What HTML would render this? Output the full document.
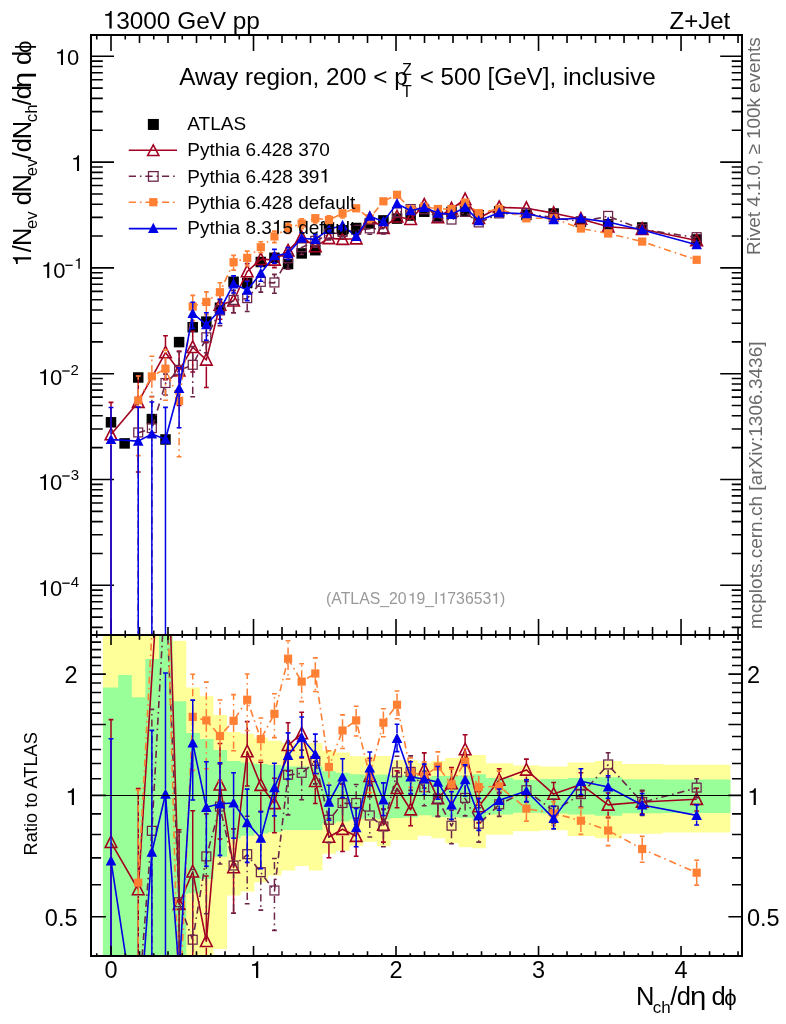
<!DOCTYPE html><html><head><meta charset="utf-8"><style>html,body{margin:0;padding:0;background:#fff;overflow:hidden}svg{display:block}text{font-family:"Liberation Sans",sans-serif}</style></head><body>
<svg style="will-change:transform" width="786" height="1024" viewBox="0 0 786 1024" font-family="Liberation Sans, sans-serif">
<rect width="786" height="1024" fill="#fff"/>
<path d="M96.75 35.00L96.75 39.50M96.75 635.00L96.75 630.50M111.00 35.00L111.00 51.00M111.00 635.00L111.00 619.00M125.25 35.00L125.25 39.50M125.25 635.00L125.25 630.50M139.50 35.00L139.50 43.00M139.50 635.00L139.50 627.00M153.75 35.00L153.75 39.50M153.75 635.00L153.75 630.50M168.00 35.00L168.00 43.00M168.00 635.00L168.00 627.00M182.25 35.00L182.25 39.50M182.25 635.00L182.25 630.50M196.51 35.00L196.51 43.00M196.51 635.00L196.51 627.00M210.76 35.00L210.76 39.50M210.76 635.00L210.76 630.50M225.01 35.00L225.01 43.00M225.01 635.00L225.01 627.00M239.26 35.00L239.26 39.50M239.26 635.00L239.26 630.50M253.51 35.00L253.51 51.00M253.51 635.00L253.51 619.00M267.76 35.00L267.76 39.50M267.76 635.00L267.76 630.50M282.01 35.00L282.01 43.00M282.01 635.00L282.01 627.00M296.26 35.00L296.26 39.50M296.26 635.00L296.26 630.50M310.51 35.00L310.51 43.00M310.51 635.00L310.51 627.00M324.76 35.00L324.76 39.50M324.76 635.00L324.76 630.50M339.02 35.00L339.02 43.00M339.02 635.00L339.02 627.00M353.27 35.00L353.27 39.50M353.27 635.00L353.27 630.50M367.52 35.00L367.52 43.00M367.52 635.00L367.52 627.00M381.77 35.00L381.77 39.50M381.77 635.00L381.77 630.50M396.02 35.00L396.02 51.00M396.02 635.00L396.02 619.00M410.27 35.00L410.27 39.50M410.27 635.00L410.27 630.50M424.52 35.00L424.52 43.00M424.52 635.00L424.52 627.00M438.77 35.00L438.77 39.50M438.77 635.00L438.77 630.50M453.02 35.00L453.02 43.00M453.02 635.00L453.02 627.00M467.27 35.00L467.27 39.50M467.27 635.00L467.27 630.50M481.53 35.00L481.53 43.00M481.53 635.00L481.53 627.00M495.78 35.00L495.78 39.50M495.78 635.00L495.78 630.50M510.03 35.00L510.03 43.00M510.03 635.00L510.03 627.00M524.28 35.00L524.28 39.50M524.28 635.00L524.28 630.50M538.53 35.00L538.53 51.00M538.53 635.00L538.53 619.00M552.78 35.00L552.78 39.50M552.78 635.00L552.78 630.50M567.03 35.00L567.03 43.00M567.03 635.00L567.03 627.00M581.28 35.00L581.28 39.50M581.28 635.00L581.28 630.50M595.53 35.00L595.53 43.00M595.53 635.00L595.53 627.00M609.78 35.00L609.78 39.50M609.78 635.00L609.78 630.50M624.04 35.00L624.04 43.00M624.04 635.00L624.04 627.00M638.29 35.00L638.29 39.50M638.29 635.00L638.29 630.50M652.54 35.00L652.54 43.00M652.54 635.00L652.54 627.00M666.79 35.00L666.79 39.50M666.79 635.00L666.79 630.50M681.04 35.00L681.04 51.00M681.04 635.00L681.04 619.00M695.29 35.00L695.29 39.50M695.29 635.00L695.29 630.50M709.54 35.00L709.54 43.00M709.54 635.00L709.54 627.00M723.79 35.00L723.79 39.50M723.79 635.00L723.79 630.50M738.04 35.00L738.04 43.00M738.04 635.00L738.04 627.00M91.00 627.40L102.80 627.40M742.00 627.40L731.70 627.40M91.00 617.15L102.80 617.15M742.00 617.15L731.70 617.15M91.00 608.77L102.80 608.77M742.00 608.77L731.70 608.77M91.00 601.69L102.80 601.69M742.00 601.69L731.70 601.69M91.00 595.55L102.80 595.55M742.00 595.55L731.70 595.55M91.00 590.14L102.80 590.14M742.00 590.14L731.70 590.14M91.00 585.30L114.00 585.30M742.00 585.30L720.20 585.30M91.00 553.45L102.80 553.45M742.00 553.45L731.70 553.45M91.00 534.82L102.80 534.82M742.00 534.82L731.70 534.82M91.00 521.60L102.80 521.60M742.00 521.60L731.70 521.60M91.00 511.35L102.80 511.35M742.00 511.35L731.70 511.35M91.00 502.97L102.80 502.97M742.00 502.97L731.70 502.97M91.00 495.89L102.80 495.89M742.00 495.89L731.70 495.89M91.00 489.75L102.80 489.75M742.00 489.75L731.70 489.75M91.00 484.34L102.80 484.34M742.00 484.34L731.70 484.34M91.00 479.50L114.00 479.50M742.00 479.50L720.20 479.50M91.00 447.65L102.80 447.65M742.00 447.65L731.70 447.65M91.00 429.02L102.80 429.02M742.00 429.02L731.70 429.02M91.00 415.80L102.80 415.80M742.00 415.80L731.70 415.80M91.00 405.55L102.80 405.55M742.00 405.55L731.70 405.55M91.00 397.17L102.80 397.17M742.00 397.17L731.70 397.17M91.00 390.09L102.80 390.09M742.00 390.09L731.70 390.09M91.00 383.95L102.80 383.95M742.00 383.95L731.70 383.95M91.00 378.54L102.80 378.54M742.00 378.54L731.70 378.54M91.00 373.70L114.00 373.70M742.00 373.70L720.20 373.70M91.00 341.85L102.80 341.85M742.00 341.85L731.70 341.85M91.00 323.22L102.80 323.22M742.00 323.22L731.70 323.22M91.00 310.00L102.80 310.00M742.00 310.00L731.70 310.00M91.00 299.75L102.80 299.75M742.00 299.75L731.70 299.75M91.00 291.37L102.80 291.37M742.00 291.37L731.70 291.37M91.00 284.29L102.80 284.29M742.00 284.29L731.70 284.29M91.00 278.15L102.80 278.15M742.00 278.15L731.70 278.15M91.00 272.74L102.80 272.74M742.00 272.74L731.70 272.74M91.00 267.90L114.00 267.90M742.00 267.90L720.20 267.90M91.00 236.05L102.80 236.05M742.00 236.05L731.70 236.05M91.00 217.42L102.80 217.42M742.00 217.42L731.70 217.42M91.00 204.20L102.80 204.20M742.00 204.20L731.70 204.20M91.00 193.95L102.80 193.95M742.00 193.95L731.70 193.95M91.00 185.57L102.80 185.57M742.00 185.57L731.70 185.57M91.00 178.49L102.80 178.49M742.00 178.49L731.70 178.49M91.00 172.35L102.80 172.35M742.00 172.35L731.70 172.35M91.00 166.94L102.80 166.94M742.00 166.94L731.70 166.94M91.00 162.10L114.00 162.10M742.00 162.10L720.20 162.10M91.00 130.25L102.80 130.25M742.00 130.25L731.70 130.25M91.00 111.62L102.80 111.62M742.00 111.62L731.70 111.62M91.00 98.40L102.80 98.40M742.00 98.40L731.70 98.40M91.00 88.15L102.80 88.15M742.00 88.15L731.70 88.15M91.00 79.77L102.80 79.77M742.00 79.77L731.70 79.77M91.00 72.69L102.80 72.69M742.00 72.69L731.70 72.69M91.00 66.55L102.80 66.55M742.00 66.55L731.70 66.55M91.00 61.14L102.80 61.14M742.00 61.14L731.70 61.14M91.00 56.30L114.00 56.30M742.00 56.30L720.20 56.30" stroke="#000" stroke-width="1.6" fill="none"/>
<defs><clipPath id="ct"><rect x="91" y="35" width="651" height="600"/></clipPath><clipPath id="cr"><rect x="91" y="635" width="651" height="320.8"/></clipPath></defs>
<g clip-path="url(#cr)">
<path d="M102.90 635.00H118.16V956.00H102.90ZM118.16 635.00H131.78V956.00H118.16ZM131.78 635.00H145.40V956.00H131.78ZM145.40 635.00H159.02V956.00H145.40ZM159.02 635.00H172.64V956.00H159.02ZM172.64 640.70H186.26V956.00H172.64ZM186.26 687.60H199.88V956.00H186.26ZM199.88 696.20H213.50V956.00H199.88ZM213.50 714.90H227.12V948.90H213.50ZM227.12 732.10H240.74V895.55H227.12ZM240.74 733.70H254.36V891.54H240.74ZM254.36 737.60H267.98V882.29H254.36ZM267.98 740.70H281.60V875.40H267.98ZM281.60 743.00H295.22V870.54H281.60ZM295.22 743.00H308.84V866.10H295.22ZM308.84 743.00H322.46V870.54H308.84ZM322.46 750.80H336.08V853.80H322.46ZM336.08 752.40H349.70V850.70H336.08ZM349.70 756.30H363.32V845.83H349.70ZM363.32 756.30H376.94V841.70H363.32ZM376.94 756.10H390.56V846.16H376.94ZM390.56 759.90H404.18V839.98H390.56ZM404.18 759.90H417.80V839.98H404.18ZM417.80 762.70H431.42V835.65H417.80ZM431.42 761.00H445.04V838.26H431.42ZM445.04 757.90H458.66V843.19H445.04ZM458.66 755.50H472.28V847.17H458.66ZM472.28 754.90H485.90V848.19H472.28ZM485.90 763.30H513.14V834.74H485.90ZM513.14 765.60H540.38V831.34H513.14ZM540.38 766.40H567.62V830.18H540.38ZM567.62 762.50H594.86V835.95H567.62ZM594.86 761.00H622.10V838.26H594.86ZM622.10 763.90H662.96V833.84H622.10ZM662.96 764.80H730.40V832.51H662.96Z" fill="#ffff99"/>
<path d="M102.90 687.50H118.16V956.00H102.90ZM118.16 675.10H131.78V956.00H118.16ZM131.78 697.30H145.40V956.00H131.78ZM145.40 659.10H159.02V956.00H145.40ZM159.02 635.00H172.64V956.00H159.02ZM172.64 701.30H186.26V956.00H172.64ZM186.26 732.90H199.88V893.53H186.26ZM199.88 739.10H213.50V878.91H199.88ZM213.50 750.10H227.12V856.68H213.50ZM227.12 761.00H240.74V838.26H227.12ZM240.74 762.60H254.36V835.80H240.74ZM254.36 764.10H267.98V833.54H254.36ZM267.98 764.90H281.60V832.36H267.98ZM281.60 766.60H295.22V829.89H281.60ZM295.22 766.60H308.84V829.89H295.22ZM308.84 766.60H322.46V829.89H308.84ZM322.46 771.20H336.08V823.49H322.46ZM336.08 772.70H349.70V821.49H336.08ZM349.70 774.30H363.32V819.40H349.70ZM363.32 775.10H376.94V818.37H363.32ZM376.94 774.50H390.56V819.14H376.94ZM390.56 775.30H404.18V818.11H390.56ZM404.18 775.80H417.80V817.48H404.18ZM417.80 777.60H431.42V815.22H417.80ZM431.42 776.10H445.04V817.10H431.42ZM445.04 776.00H458.66V817.22H445.04ZM458.66 775.50H472.28V817.86H458.66ZM472.28 774.20H485.90V819.53H472.28ZM485.90 778.10H513.14V814.60H485.90ZM513.14 779.70H540.38V812.65H513.14ZM540.38 778.90H567.62V813.62H540.38ZM567.62 778.10H594.86V814.60H567.62ZM594.86 777.25H622.10V815.65H594.86ZM622.10 779.20H662.96V813.25H622.10ZM662.96 779.50H730.40V812.89H662.96Z" fill="#99ff99"/>
<path d="M111.00 842.30L138.24 889.50L165.48 464.39L179.10 904.20L192.72 871.80L206.34 941.30L219.96 784.80L233.58 867.50L247.20 751.60L260.82 785.20L274.44 803.40L288.06 745.30L301.68 733.60L315.30 781.30L328.92 837.00L342.54 829.20L356.16 836.20L369.78 776.30L383.40 825.00L397.02 788.30L410.64 809.70L424.26 769.60L437.88 798.60L451.50 783.50L465.12 749.60L478.74 806.60L499.17 780.10L526.41 769.90L553.65 794.10L580.89 784.40L608.13 804.90L642.18 802.00L696.66 799.20" fill="none" stroke="#a30021" stroke-width="1.6" stroke-linejoin="round"/>
<path d="M111.00 835.80V719.60M111.00 848.80V1006.00M138.24 883.00V788.50M138.24 896.00V1155.16M179.10 897.70V829.70M179.10 910.70V1036.57M192.72 865.30V810.80M192.72 878.30V966.23M206.34 934.80V876.00M206.34 947.80V1046.64M219.96 778.30V743.50M219.96 791.30V838.96M233.58 861.00V828.80M233.58 874.00V913.20M247.20 745.10V721.60M247.20 758.10V786.00M260.82 778.70V762.27M260.82 791.70V811.60M274.44 796.90V778.31M274.44 809.90V832.70M288.06 738.80V722.70M288.06 751.80V771.26M301.68 727.10V712.25M301.68 740.10V757.92M315.30 774.80V761.60M315.30 787.80V803.50M328.92 830.50V818.49M328.92 843.50V857.70M342.54 822.70V784.30M342.54 835.70V851.50M356.16 829.70V818.25M356.16 842.70V856.20M369.78 769.80V758.35M369.78 782.80V796.30M383.40 818.50V809.42M383.40 831.50V842.10M397.02 781.80V770.84M397.02 794.80V807.70M410.64 803.20V795.04M410.64 816.20V825.70M424.26 763.10V752.90M424.26 776.10V788.06M437.88 792.10V782.53M437.88 805.10V816.30M451.50 777.00V767.43M451.50 790.00V801.20M465.12 743.10V734.75M465.12 756.10V765.83M478.74 800.10V791.75M478.74 813.10V822.83M499.17 773.60V768.75M499.17 786.60V792.24M526.41 763.40V759.10M526.41 776.40V781.41M553.65 787.60V782.50M553.65 800.60V806.52M580.89 777.90V772.80M580.89 790.90V796.82M608.13 798.40V792.97M608.13 811.40V817.70M642.18 795.50V791.00M642.18 808.50V813.74M696.66 792.70V788.20M696.66 805.70V810.94" fill="none" stroke="#a30021" stroke-width="1.5"/>
<path d="M108.60 719.60H113.40M108.60 1006.00H113.40M135.84 788.50H140.64M135.84 1155.16H140.64M176.70 829.70H181.50M176.70 1036.57H181.50M190.32 810.80H195.12M190.32 966.23H195.12M203.94 876.00H208.74M203.94 1046.64H208.74M217.56 743.50H222.36M217.56 838.96H222.36M231.18 828.80H235.98M231.18 913.20H235.98M244.80 721.60H249.60M244.80 786.00H249.60M258.42 762.27H263.22M258.42 811.60H263.22M272.04 778.31H276.84M272.04 832.70H276.84M285.66 722.70H290.46M285.66 771.26H290.46M299.28 712.25H304.08M299.28 757.92H304.08M312.90 761.60H317.70M312.90 803.50H317.70M326.52 818.49H331.32M326.52 857.70H331.32M340.14 784.30H344.94M340.14 851.50H344.94M353.76 818.25H358.56M353.76 856.20H358.56M367.38 758.35H372.18M367.38 796.30H372.18M381.00 809.42H385.80M381.00 842.10H385.80M394.62 770.84H399.42M394.62 807.70H399.42M408.24 795.04H413.04M408.24 825.70H413.04M421.86 752.90H426.66M421.86 788.06H426.66M435.48 782.53H440.28M435.48 816.30H440.28M449.10 767.43H453.90M449.10 801.20H453.90M462.72 734.75H467.52M462.72 765.83H467.52M476.34 791.75H481.14M476.34 822.83H481.14M496.77 768.75H501.57M496.77 792.24H501.57M524.01 759.10H528.81M524.01 781.41H528.81M551.25 782.50H556.05M551.25 806.52H556.05M578.49 772.80H583.29M578.49 796.82H583.29M605.73 792.97H610.53M605.73 817.70H610.53M639.78 791.00H644.58M639.78 813.74H644.58M694.26 788.20H699.06M694.26 810.94H699.06" fill="none" stroke="#a30021" stroke-width="1.6"/>
<path d="M111.00 835.90L116.80 847.50H105.20Z" fill="none" stroke="#a30021" stroke-width="1.6" stroke-linejoin="miter"/>
<path d="M138.24 883.10L144.04 894.70H132.44Z" fill="none" stroke="#a30021" stroke-width="1.6" stroke-linejoin="miter"/>
<path d="M179.10 897.80L184.90 909.40H173.30Z" fill="none" stroke="#a30021" stroke-width="1.6" stroke-linejoin="miter"/>
<path d="M192.72 865.40L198.52 877.00H186.92Z" fill="none" stroke="#a30021" stroke-width="1.6" stroke-linejoin="miter"/>
<path d="M206.34 934.90L212.14 946.50H200.54Z" fill="none" stroke="#a30021" stroke-width="1.6" stroke-linejoin="miter"/>
<path d="M219.96 778.40L225.76 790.00H214.16Z" fill="none" stroke="#a30021" stroke-width="1.6" stroke-linejoin="miter"/>
<path d="M233.58 861.10L239.38 872.70H227.78Z" fill="none" stroke="#a30021" stroke-width="1.6" stroke-linejoin="miter"/>
<path d="M247.20 745.20L253.00 756.80H241.40Z" fill="none" stroke="#a30021" stroke-width="1.6" stroke-linejoin="miter"/>
<path d="M260.82 778.80L266.62 790.40H255.02Z" fill="none" stroke="#a30021" stroke-width="1.6" stroke-linejoin="miter"/>
<path d="M274.44 797.00L280.24 808.60H268.64Z" fill="none" stroke="#a30021" stroke-width="1.6" stroke-linejoin="miter"/>
<path d="M288.06 738.90L293.86 750.50H282.26Z" fill="none" stroke="#a30021" stroke-width="1.6" stroke-linejoin="miter"/>
<path d="M301.68 727.20L307.48 738.80H295.88Z" fill="none" stroke="#a30021" stroke-width="1.6" stroke-linejoin="miter"/>
<path d="M315.30 774.90L321.10 786.50H309.50Z" fill="none" stroke="#a30021" stroke-width="1.6" stroke-linejoin="miter"/>
<path d="M328.92 830.60L334.72 842.20H323.12Z" fill="none" stroke="#a30021" stroke-width="1.6" stroke-linejoin="miter"/>
<path d="M342.54 822.80L348.34 834.40H336.74Z" fill="none" stroke="#a30021" stroke-width="1.6" stroke-linejoin="miter"/>
<path d="M356.16 829.80L361.96 841.40H350.36Z" fill="none" stroke="#a30021" stroke-width="1.6" stroke-linejoin="miter"/>
<path d="M369.78 769.90L375.58 781.50H363.98Z" fill="none" stroke="#a30021" stroke-width="1.6" stroke-linejoin="miter"/>
<path d="M383.40 818.60L389.20 830.20H377.60Z" fill="none" stroke="#a30021" stroke-width="1.6" stroke-linejoin="miter"/>
<path d="M397.02 781.90L402.82 793.50H391.22Z" fill="none" stroke="#a30021" stroke-width="1.6" stroke-linejoin="miter"/>
<path d="M410.64 803.30L416.44 814.90H404.84Z" fill="none" stroke="#a30021" stroke-width="1.6" stroke-linejoin="miter"/>
<path d="M424.26 763.20L430.06 774.80H418.46Z" fill="none" stroke="#a30021" stroke-width="1.6" stroke-linejoin="miter"/>
<path d="M437.88 792.20L443.68 803.80H432.08Z" fill="none" stroke="#a30021" stroke-width="1.6" stroke-linejoin="miter"/>
<path d="M451.50 777.10L457.30 788.70H445.70Z" fill="none" stroke="#a30021" stroke-width="1.6" stroke-linejoin="miter"/>
<path d="M465.12 743.20L470.92 754.80H459.32Z" fill="none" stroke="#a30021" stroke-width="1.6" stroke-linejoin="miter"/>
<path d="M478.74 800.20L484.54 811.80H472.94Z" fill="none" stroke="#a30021" stroke-width="1.6" stroke-linejoin="miter"/>
<path d="M499.17 773.70L504.97 785.30H493.37Z" fill="none" stroke="#a30021" stroke-width="1.6" stroke-linejoin="miter"/>
<path d="M526.41 763.50L532.21 775.10H520.61Z" fill="none" stroke="#a30021" stroke-width="1.6" stroke-linejoin="miter"/>
<path d="M553.65 787.70L559.45 799.30H547.85Z" fill="none" stroke="#a30021" stroke-width="1.6" stroke-linejoin="miter"/>
<path d="M580.89 778.00L586.69 789.60H575.09Z" fill="none" stroke="#a30021" stroke-width="1.6" stroke-linejoin="miter"/>
<path d="M608.13 798.50L613.93 810.10H602.33Z" fill="none" stroke="#a30021" stroke-width="1.6" stroke-linejoin="miter"/>
<path d="M642.18 795.60L647.98 807.20H636.38Z" fill="none" stroke="#a30021" stroke-width="1.6" stroke-linejoin="miter"/>
<path d="M696.66 792.80L702.46 804.40H690.86Z" fill="none" stroke="#a30021" stroke-width="1.6" stroke-linejoin="miter"/>
<path d="M138.24 1006.23L151.86 831.20L165.48 581.71L179.10 902.60L192.72 940.10L206.34 856.80L219.96 807.00L233.58 865.90L247.20 854.60L260.82 872.60L274.44 890.90L288.06 775.10L301.68 773.20L315.30 761.40L328.92 820.20L342.54 803.40L356.16 803.40L369.78 815.90L383.40 826.90L397.02 772.70L410.64 772.30L424.26 787.60L437.88 799.00L451.50 826.10L465.12 798.30L478.74 824.10L499.17 804.70L526.41 790.60L553.65 810.90L580.89 794.50L608.13 764.85L642.18 802.40L696.66 788.00" fill="none" stroke="#6b2448" stroke-width="1.6" stroke-dasharray="7.2 3.9 1.6 3.9" stroke-linejoin="round"/>
<path d="M151.86 826.20V709.40M151.86 836.20V1006.00M179.10 897.60V832.00M179.10 907.60V1022.83M192.72 935.10V869.50M192.72 945.10V1060.33M206.34 851.80V813.87M206.34 861.80V913.80M219.96 802.00V764.07M219.96 812.00V864.00M233.58 860.90V828.80M233.58 870.90V913.20M247.20 849.60V816.30M247.20 859.60V903.80M260.82 867.60V841.73M260.82 877.60V910.10M274.44 885.90V858.50M274.44 895.90V930.40M288.06 770.10V742.70M288.06 780.10V814.89M301.68 768.20V750.10M301.68 778.20V799.82M315.30 756.40V741.50M315.30 766.40V783.86M328.92 815.20V800.30M328.92 825.20V842.66M342.54 798.40V783.50M342.54 808.40V825.86M356.16 798.40V784.57M356.16 808.40V824.50M369.78 810.90V797.07M369.78 820.90V837.00M383.40 821.90V809.03M383.40 831.90V846.80M397.02 767.70V756.30M397.02 777.70V790.80M410.64 767.30V755.90M410.64 777.30V790.40M424.26 782.60V771.20M424.26 792.60V805.70M437.88 794.00V783.01M437.88 804.00V816.60M451.50 821.10V810.11M451.50 831.10V843.70M465.12 793.30V782.31M465.12 803.30V815.90M478.74 819.10V807.78M478.74 829.10V842.10M499.17 799.70V793.73M499.17 809.70V816.40M526.41 785.60V779.63M526.41 795.60V802.30M553.65 805.90V799.23M553.65 815.90V823.40M580.89 789.50V782.83M580.89 799.50V807.00M608.13 759.85V752.80M608.13 769.85V777.25M642.18 797.40V790.35M642.18 807.40V815.34M696.66 783.00V778.80M696.66 793.00V797.71" fill="none" stroke="#6b2448" stroke-width="1.5" stroke-dasharray="7.2 3.9 1.6 3.9"/>
<path d="M149.46 709.40H154.26M149.46 1006.00H154.26M176.70 832.00H181.50M176.70 1022.83H181.50M190.32 869.50H195.12M190.32 1060.33H195.12M203.94 813.87H208.74M203.94 913.80H208.74M217.56 764.07H222.36M217.56 864.00H222.36M231.18 828.80H235.98M231.18 913.20H235.98M244.80 816.30H249.60M244.80 903.80H249.60M258.42 841.73H263.22M258.42 910.10H263.22M272.04 858.50H276.84M272.04 930.40H276.84M285.66 742.70H290.46M285.66 814.89H290.46M299.28 750.10H304.08M299.28 799.82H304.08M312.90 741.50H317.70M312.90 783.86H317.70M326.52 800.30H331.32M326.52 842.66H331.32M340.14 783.50H344.94M340.14 825.86H344.94M353.76 784.57H358.56M353.76 824.50H358.56M367.38 797.07H372.18M367.38 837.00H372.18M381.00 809.03H385.80M381.00 846.80H385.80M394.62 756.30H399.42M394.62 790.80H399.42M408.24 755.90H413.04M408.24 790.40H413.04M421.86 771.20H426.66M421.86 805.70H426.66M435.48 783.01H440.28M435.48 816.60H440.28M449.10 810.11H453.90M449.10 843.70H453.90M462.72 782.31H467.52M462.72 815.90H467.52M476.34 807.78H481.14M476.34 842.10H481.14M496.77 793.73H501.57M496.77 816.40H501.57M524.01 779.63H528.81M524.01 802.30H528.81M551.25 799.23H556.05M551.25 823.40H556.05M578.49 782.83H583.29M578.49 807.00H583.29M605.73 752.80H610.53M605.73 777.25H610.53M639.78 790.35H644.58M639.78 815.34H644.58M694.26 778.80H699.06M694.26 797.71H699.06" fill="none" stroke="#6b2448" stroke-width="1.6"/>
<rect x="147.41" y="826.35" width="8.9" height="8.9" fill="none" stroke="#6b2448" stroke-width="1.25"/>
<rect x="174.65" y="897.75" width="8.9" height="8.9" fill="none" stroke="#6b2448" stroke-width="1.25"/>
<rect x="188.27" y="935.25" width="8.9" height="8.9" fill="none" stroke="#6b2448" stroke-width="1.25"/>
<rect x="201.89" y="851.95" width="8.9" height="8.9" fill="none" stroke="#6b2448" stroke-width="1.25"/>
<rect x="215.51" y="802.15" width="8.9" height="8.9" fill="none" stroke="#6b2448" stroke-width="1.25"/>
<rect x="229.13" y="861.05" width="8.9" height="8.9" fill="none" stroke="#6b2448" stroke-width="1.25"/>
<rect x="242.75" y="849.75" width="8.9" height="8.9" fill="none" stroke="#6b2448" stroke-width="1.25"/>
<rect x="256.37" y="867.75" width="8.9" height="8.9" fill="none" stroke="#6b2448" stroke-width="1.25"/>
<rect x="269.99" y="886.05" width="8.9" height="8.9" fill="none" stroke="#6b2448" stroke-width="1.25"/>
<rect x="283.61" y="770.25" width="8.9" height="8.9" fill="none" stroke="#6b2448" stroke-width="1.25"/>
<rect x="297.23" y="768.35" width="8.9" height="8.9" fill="none" stroke="#6b2448" stroke-width="1.25"/>
<rect x="310.85" y="756.55" width="8.9" height="8.9" fill="none" stroke="#6b2448" stroke-width="1.25"/>
<rect x="324.47" y="815.35" width="8.9" height="8.9" fill="none" stroke="#6b2448" stroke-width="1.25"/>
<rect x="338.09" y="798.55" width="8.9" height="8.9" fill="none" stroke="#6b2448" stroke-width="1.25"/>
<rect x="351.71" y="798.55" width="8.9" height="8.9" fill="none" stroke="#6b2448" stroke-width="1.25"/>
<rect x="365.33" y="811.05" width="8.9" height="8.9" fill="none" stroke="#6b2448" stroke-width="1.25"/>
<rect x="378.95" y="822.05" width="8.9" height="8.9" fill="none" stroke="#6b2448" stroke-width="1.25"/>
<rect x="392.57" y="767.85" width="8.9" height="8.9" fill="none" stroke="#6b2448" stroke-width="1.25"/>
<rect x="406.19" y="767.45" width="8.9" height="8.9" fill="none" stroke="#6b2448" stroke-width="1.25"/>
<rect x="419.81" y="782.75" width="8.9" height="8.9" fill="none" stroke="#6b2448" stroke-width="1.25"/>
<rect x="433.43" y="794.15" width="8.9" height="8.9" fill="none" stroke="#6b2448" stroke-width="1.25"/>
<rect x="447.05" y="821.25" width="8.9" height="8.9" fill="none" stroke="#6b2448" stroke-width="1.25"/>
<rect x="460.67" y="793.45" width="8.9" height="8.9" fill="none" stroke="#6b2448" stroke-width="1.25"/>
<rect x="474.29" y="819.25" width="8.9" height="8.9" fill="none" stroke="#6b2448" stroke-width="1.25"/>
<rect x="494.72" y="799.85" width="8.9" height="8.9" fill="none" stroke="#6b2448" stroke-width="1.25"/>
<rect x="521.96" y="785.75" width="8.9" height="8.9" fill="none" stroke="#6b2448" stroke-width="1.25"/>
<rect x="549.20" y="806.05" width="8.9" height="8.9" fill="none" stroke="#6b2448" stroke-width="1.25"/>
<rect x="576.44" y="789.65" width="8.9" height="8.9" fill="none" stroke="#6b2448" stroke-width="1.25"/>
<rect x="603.68" y="760.00" width="8.9" height="8.9" fill="none" stroke="#6b2448" stroke-width="1.25"/>
<rect x="637.73" y="797.55" width="8.9" height="8.9" fill="none" stroke="#6b2448" stroke-width="1.25"/>
<rect x="692.21" y="783.15" width="8.9" height="8.9" fill="none" stroke="#6b2448" stroke-width="1.25"/>
<path d="M138.24 882.70L151.86 632.75L165.48 525.72L179.10 1018.99L192.72 716.90L206.34 720.40L219.96 736.00L233.58 720.80L247.20 699.75L260.82 739.10L274.44 713.80L288.06 658.70L301.68 681.60L315.30 673.50L328.92 767.00L342.54 730.50L356.16 720.40L369.78 776.00L383.40 722.70L397.02 704.75L410.64 772.00L424.26 776.00L437.88 766.50L451.50 784.40L465.12 761.80L478.74 787.10L499.17 786.30L526.41 808.60L553.65 813.30L580.89 820.70L608.13 830.50L642.18 849.00L696.66 872.70" fill="none" stroke="#ff7f33" stroke-width="1.6" stroke-dasharray="7.2 3.9 1.6 3.9" stroke-linejoin="round"/>
<path d="M138.24 878.60V789.90M138.24 886.80V1093.02M192.72 712.80V674.30M192.72 721.00V770.40M206.34 716.30V682.10M206.34 724.50V768.80M219.96 731.90V700.00M219.96 740.10V781.37M233.58 716.70V694.60M233.58 724.90V750.80M247.20 695.65V674.00M247.20 703.85V730.50M260.82 735.00V718.00M260.82 743.20V760.20M274.44 709.70V693.80M274.44 717.90V737.60M288.06 654.60V640.70M288.06 662.80V679.00M301.68 677.50V663.80M301.68 685.70V701.60M315.30 669.40V657.90M315.30 677.60V691.50M328.92 762.90V750.80M328.92 771.10V785.20M342.54 726.40V714.90M342.54 734.60V748.50M356.16 716.30V706.30M356.16 724.50V736.00M369.78 771.90V760.67M369.78 780.10V792.80M383.40 718.60V708.70M383.40 726.80V736.80M397.02 700.65V691.00M397.02 708.85V718.80M410.64 767.90V757.90M410.64 776.10V787.34M424.26 771.90V761.90M424.26 780.10V791.34M437.88 762.40V751.90M437.88 770.60V782.43M451.50 780.30V769.10M451.50 788.50V801.17M465.12 757.70V748.50M465.12 765.90V776.19M478.74 783.00V771.90M478.74 791.20V803.75M499.17 782.20V771.10M499.17 790.40V802.95M526.41 804.50V796.93M526.41 812.70V821.10M553.65 809.20V801.63M553.65 817.40V825.80M580.89 816.60V807.99M580.89 824.80V834.40M608.13 826.40V816.60M608.13 834.60V845.60M642.18 844.90V836.40M642.18 853.10V862.20M696.66 868.60V860.30M696.66 876.80V885.10" fill="none" stroke="#ff7f33" stroke-width="1.5" stroke-dasharray="7.2 3.9 1.6 3.9"/>
<path d="M135.84 789.90H140.64M135.84 1093.02H140.64M190.32 674.30H195.12M190.32 770.40H195.12M203.94 682.10H208.74M203.94 768.80H208.74M217.56 700.00H222.36M217.56 781.37H222.36M231.18 694.60H235.98M231.18 750.80H235.98M244.80 674.00H249.60M244.80 730.50H249.60M258.42 718.00H263.22M258.42 760.20H263.22M272.04 693.80H276.84M272.04 737.60H276.84M285.66 640.70H290.46M285.66 679.00H290.46M299.28 663.80H304.08M299.28 701.60H304.08M312.90 657.90H317.70M312.90 691.50H317.70M326.52 750.80H331.32M326.52 785.20H331.32M340.14 714.90H344.94M340.14 748.50H344.94M353.76 706.30H358.56M353.76 736.00H358.56M367.38 760.67H372.18M367.38 792.80H372.18M381.00 708.70H385.80M381.00 736.80H385.80M394.62 691.00H399.42M394.62 718.80H399.42M408.24 757.90H413.04M408.24 787.34H413.04M421.86 761.90H426.66M421.86 791.34H426.66M435.48 751.90H440.28M435.48 782.43H440.28M449.10 769.10H453.90M449.10 801.17H453.90M462.72 748.50H467.52M462.72 776.19H467.52M476.34 771.90H481.14M476.34 803.75H481.14M496.77 771.10H501.57M496.77 802.95H501.57M524.01 796.93H528.81M524.01 821.10H528.81M551.25 801.63H556.05M551.25 825.80H556.05M578.49 807.99H583.29M578.49 834.40H583.29M605.73 816.60H610.53M605.73 845.60H610.53M639.78 836.40H644.58M639.78 862.20H644.58M694.26 860.30H699.06M694.26 885.10H699.06" fill="none" stroke="#ff7f33" stroke-width="1.6"/>
<rect x="134.14" y="878.60" width="8.2" height="8.2" fill="#ff7f33"/>
<rect x="188.62" y="712.80" width="8.2" height="8.2" fill="#ff7f33"/>
<rect x="202.24" y="716.30" width="8.2" height="8.2" fill="#ff7f33"/>
<rect x="215.86" y="731.90" width="8.2" height="8.2" fill="#ff7f33"/>
<rect x="229.48" y="716.70" width="8.2" height="8.2" fill="#ff7f33"/>
<rect x="243.10" y="695.65" width="8.2" height="8.2" fill="#ff7f33"/>
<rect x="256.72" y="735.00" width="8.2" height="8.2" fill="#ff7f33"/>
<rect x="270.34" y="709.70" width="8.2" height="8.2" fill="#ff7f33"/>
<rect x="283.96" y="654.60" width="8.2" height="8.2" fill="#ff7f33"/>
<rect x="297.58" y="677.50" width="8.2" height="8.2" fill="#ff7f33"/>
<rect x="311.20" y="669.40" width="8.2" height="8.2" fill="#ff7f33"/>
<rect x="324.82" y="762.90" width="8.2" height="8.2" fill="#ff7f33"/>
<rect x="338.44" y="726.40" width="8.2" height="8.2" fill="#ff7f33"/>
<rect x="352.06" y="716.30" width="8.2" height="8.2" fill="#ff7f33"/>
<rect x="365.68" y="771.90" width="8.2" height="8.2" fill="#ff7f33"/>
<rect x="379.30" y="718.60" width="8.2" height="8.2" fill="#ff7f33"/>
<rect x="392.92" y="700.65" width="8.2" height="8.2" fill="#ff7f33"/>
<rect x="406.54" y="767.90" width="8.2" height="8.2" fill="#ff7f33"/>
<rect x="420.16" y="771.90" width="8.2" height="8.2" fill="#ff7f33"/>
<rect x="433.78" y="762.40" width="8.2" height="8.2" fill="#ff7f33"/>
<rect x="447.40" y="780.30" width="8.2" height="8.2" fill="#ff7f33"/>
<rect x="461.02" y="757.70" width="8.2" height="8.2" fill="#ff7f33"/>
<rect x="474.64" y="783.00" width="8.2" height="8.2" fill="#ff7f33"/>
<rect x="495.07" y="782.20" width="8.2" height="8.2" fill="#ff7f33"/>
<rect x="522.31" y="804.50" width="8.2" height="8.2" fill="#ff7f33"/>
<rect x="549.55" y="809.20" width="8.2" height="8.2" fill="#ff7f33"/>
<rect x="576.79" y="816.60" width="8.2" height="8.2" fill="#ff7f33"/>
<rect x="604.03" y="826.40" width="8.2" height="8.2" fill="#ff7f33"/>
<rect x="638.08" y="844.90" width="8.2" height="8.2" fill="#ff7f33"/>
<rect x="692.56" y="868.60" width="8.2" height="8.2" fill="#ff7f33"/>
<path d="M111.00 860.90L138.24 1037.66L151.86 852.20L165.48 794.20L179.10 972.14L192.72 743.00L206.34 807.30L219.96 803.80L233.58 803.00L247.20 822.60L260.82 838.20L274.44 787.60L288.06 755.50L301.68 737.60L315.30 754.30L328.92 802.20L342.54 777.00L356.16 827.60L369.78 768.00L383.40 799.90L397.02 738.30L410.64 777.00L424.26 779.00L437.88 782.10L451.50 805.00L465.12 779.75L478.74 815.90L499.17 800.30L526.41 791.00L553.65 818.40L580.89 781.30L608.13 787.00L642.18 805.00L696.66 815.40" fill="none" stroke="#0000e6" stroke-width="1.6" stroke-linejoin="round"/>
<path d="M111.00 855.70V738.80M111.00 866.10V1006.00M151.86 847.00V730.40M151.86 857.40V1006.00M165.48 789.00V673.00M165.48 799.40V1006.00M192.72 737.80V700.10M192.72 748.20V799.95M206.34 802.10V761.80M206.34 812.50V866.30M219.96 798.60V762.90M219.96 809.00V855.40M233.58 797.80V772.70M233.58 808.20V838.20M247.20 817.40V789.10M247.20 827.80V862.40M260.82 833.00V811.60M260.82 843.40V868.70M274.44 782.40V763.30M274.44 792.80V815.83M288.06 750.30V732.90M288.06 760.70V779.00M301.68 732.40V717.00M301.68 742.80V757.10M315.30 749.10V734.10M315.30 759.50V773.50M328.92 797.00V785.20M328.92 807.40V820.20M342.54 771.80V758.70M342.54 782.20V797.44M356.16 822.40V808.50M356.16 832.80V846.80M369.78 762.80V752.00M369.78 773.20V785.61M383.40 794.70V782.90M383.40 805.10V815.50M397.02 733.10V724.30M397.02 743.50V751.60M410.64 771.80V761.80M410.64 782.20V793.65M424.26 773.80V764.10M424.26 784.20V795.29M437.88 776.90V766.50M437.88 787.30V799.23M451.50 799.80V791.70M451.50 810.20V819.40M465.12 774.55V764.90M465.12 784.95V795.98M478.74 810.70V798.40M478.74 821.10V830.40M499.17 795.10V789.00M499.17 805.50V810.20M526.41 785.80V779.70M526.41 796.20V801.60M553.65 813.20V806.25M553.65 823.60V828.90M580.89 776.10V768.75M580.89 786.50V794.82M608.13 781.80V775.70M608.13 792.20V798.25M642.18 799.80V793.50M642.18 810.20V814.80M696.66 810.20V804.90M696.66 820.60V825.00" fill="none" stroke="#0000e6" stroke-width="1.5"/>
<path d="M108.60 738.80H113.40M108.60 1006.00H113.40M149.46 730.40H154.26M149.46 1006.00H154.26M163.08 673.00H167.88M163.08 1006.00H167.88M190.32 700.10H195.12M190.32 799.95H195.12M203.94 761.80H208.74M203.94 866.30H208.74M217.56 762.90H222.36M217.56 855.40H222.36M231.18 772.70H235.98M231.18 838.20H235.98M244.80 789.10H249.60M244.80 862.40H249.60M258.42 811.60H263.22M258.42 868.70H263.22M272.04 763.30H276.84M272.04 815.83H276.84M285.66 732.90H290.46M285.66 779.00H290.46M299.28 717.00H304.08M299.28 757.10H304.08M312.90 734.10H317.70M312.90 773.50H317.70M326.52 785.20H331.32M326.52 820.20H331.32M340.14 758.70H344.94M340.14 797.44H344.94M353.76 808.50H358.56M353.76 846.80H358.56M367.38 752.00H372.18M367.38 785.61H372.18M381.00 782.90H385.80M381.00 815.50H385.80M394.62 724.30H399.42M394.62 751.60H399.42M408.24 761.80H413.04M408.24 793.65H413.04M421.86 764.10H426.66M421.86 795.29H426.66M435.48 766.50H440.28M435.48 799.23H440.28M449.10 791.70H453.90M449.10 819.40H453.90M462.72 764.90H467.52M462.72 795.98H467.52M476.34 798.40H481.14M476.34 830.40H481.14M496.77 789.00H501.57M496.77 810.20H501.57M524.01 779.70H528.81M524.01 801.60H528.81M551.25 806.25H556.05M551.25 828.90H556.05M578.49 768.75H583.29M578.49 794.82H583.29M605.73 775.70H610.53M605.73 798.25H610.53M639.78 793.50H644.58M639.78 814.80H644.58M694.26 804.90H699.06M694.26 825.00H699.06" fill="none" stroke="#0000e6" stroke-width="1.6"/>
<path d="M111.00 855.30L116.30 865.50H105.70Z" fill="#0000e6"/>
<path d="M151.86 846.60L157.16 856.80H146.56Z" fill="#0000e6"/>
<path d="M165.48 788.60L170.78 798.80H160.18Z" fill="#0000e6"/>
<path d="M192.72 737.40L198.02 747.60H187.42Z" fill="#0000e6"/>
<path d="M206.34 801.70L211.64 811.90H201.04Z" fill="#0000e6"/>
<path d="M219.96 798.20L225.26 808.40H214.66Z" fill="#0000e6"/>
<path d="M233.58 797.40L238.88 807.60H228.28Z" fill="#0000e6"/>
<path d="M247.20 817.00L252.50 827.20H241.90Z" fill="#0000e6"/>
<path d="M260.82 832.60L266.12 842.80H255.52Z" fill="#0000e6"/>
<path d="M274.44 782.00L279.74 792.20H269.14Z" fill="#0000e6"/>
<path d="M288.06 749.90L293.36 760.10H282.76Z" fill="#0000e6"/>
<path d="M301.68 732.00L306.98 742.20H296.38Z" fill="#0000e6"/>
<path d="M315.30 748.70L320.60 758.90H310.00Z" fill="#0000e6"/>
<path d="M328.92 796.60L334.22 806.80H323.62Z" fill="#0000e6"/>
<path d="M342.54 771.40L347.84 781.60H337.24Z" fill="#0000e6"/>
<path d="M356.16 822.00L361.46 832.20H350.86Z" fill="#0000e6"/>
<path d="M369.78 762.40L375.08 772.60H364.48Z" fill="#0000e6"/>
<path d="M383.40 794.30L388.70 804.50H378.10Z" fill="#0000e6"/>
<path d="M397.02 732.70L402.32 742.90H391.72Z" fill="#0000e6"/>
<path d="M410.64 771.40L415.94 781.60H405.34Z" fill="#0000e6"/>
<path d="M424.26 773.40L429.56 783.60H418.96Z" fill="#0000e6"/>
<path d="M437.88 776.50L443.18 786.70H432.58Z" fill="#0000e6"/>
<path d="M451.50 799.40L456.80 809.60H446.20Z" fill="#0000e6"/>
<path d="M465.12 774.15L470.42 784.35H459.82Z" fill="#0000e6"/>
<path d="M478.74 810.30L484.04 820.50H473.44Z" fill="#0000e6"/>
<path d="M499.17 794.70L504.47 804.90H493.87Z" fill="#0000e6"/>
<path d="M526.41 785.40L531.71 795.60H521.11Z" fill="#0000e6"/>
<path d="M553.65 812.80L558.95 823.00H548.35Z" fill="#0000e6"/>
<path d="M580.89 775.70L586.19 785.90H575.59Z" fill="#0000e6"/>
<path d="M608.13 781.40L613.43 791.60H602.83Z" fill="#0000e6"/>
<path d="M642.18 799.40L647.48 809.60H636.88Z" fill="#0000e6"/>
<path d="M696.66 809.80L701.96 820.00H691.36Z" fill="#0000e6"/>
</g>
<g clip-path="url(#ct)">
<rect x="105.75" y="417.05" width="10.5" height="10.5" fill="#000"/>
<rect x="119.37" y="438.15" width="10.5" height="10.5" fill="#000"/>
<rect x="132.99" y="372.25" width="10.5" height="10.5" fill="#000"/>
<rect x="146.61" y="413.85" width="10.5" height="10.5" fill="#000"/>
<rect x="160.23" y="434.25" width="10.5" height="10.5" fill="#000"/>
<rect x="173.85" y="336.85" width="10.5" height="10.5" fill="#000"/>
<rect x="187.47" y="321.95" width="10.5" height="10.5" fill="#000"/>
<rect x="201.09" y="316.35" width="10.5" height="10.5" fill="#000"/>
<rect x="214.71" y="302.55" width="10.5" height="10.5" fill="#000"/>
<rect x="228.33" y="276.55" width="10.5" height="10.5" fill="#000"/>
<rect x="241.95" y="277.75" width="10.5" height="10.5" fill="#000"/>
<rect x="255.57" y="256.75" width="10.5" height="10.5" fill="#000"/>
<rect x="269.19" y="252.55" width="10.5" height="10.5" fill="#000"/>
<rect x="282.81" y="258.75" width="10.5" height="10.5" fill="#000"/>
<rect x="296.43" y="248.15" width="10.5" height="10.5" fill="#000"/>
<rect x="310.05" y="244.95" width="10.5" height="10.5" fill="#000"/>
<rect x="323.67" y="222.25" width="10.5" height="10.5" fill="#000"/>
<rect x="337.29" y="225.05" width="10.5" height="10.5" fill="#000"/>
<rect x="350.91" y="222.75" width="10.5" height="10.5" fill="#000"/>
<rect x="364.53" y="218.15" width="10.5" height="10.5" fill="#000"/>
<rect x="378.15" y="215.15" width="10.5" height="10.5" fill="#000"/>
<rect x="391.77" y="213.35" width="10.5" height="10.5" fill="#000"/>
<rect x="405.39" y="210.25" width="10.5" height="10.5" fill="#000"/>
<rect x="419.01" y="206.45" width="10.5" height="10.5" fill="#000"/>
<rect x="432.63" y="211.35" width="10.5" height="10.5" fill="#000"/>
<rect x="446.25" y="206.65" width="10.5" height="10.5" fill="#000"/>
<rect x="459.87" y="206.25" width="10.5" height="10.5" fill="#000"/>
<rect x="473.49" y="210.05" width="10.5" height="10.5" fill="#000"/>
<rect x="493.92" y="206.10" width="10.5" height="10.5" fill="#000"/>
<rect x="521.16" y="209.65" width="10.5" height="10.5" fill="#000"/>
<rect x="548.40" y="208.25" width="10.5" height="10.5" fill="#000"/>
<rect x="575.64" y="216.65" width="10.5" height="10.5" fill="#000"/>
<rect x="602.88" y="219.05" width="10.5" height="10.5" fill="#000"/>
<rect x="636.93" y="222.25" width="10.5" height="10.5" fill="#000"/>
<rect x="691.41" y="234.25" width="10.5" height="10.5" fill="#000"/>
<path d="M111.00 434.61L138.24 402.20L165.48 352.60L179.10 370.66L192.72 347.26L206.34 359.90L219.96 305.02L233.58 300.73L247.20 271.50L260.82 259.32L274.44 259.90L288.06 250.85L301.68 237.18L315.30 246.50L328.92 238.42L342.54 239.17L356.16 238.71L369.78 218.39L383.40 228.17L397.02 216.74L410.64 219.25L424.26 204.93L437.88 217.44L451.50 208.78L465.12 199.48L478.74 218.24L499.17 207.33L526.41 208.21L553.65 213.16L580.89 219.01L608.13 226.79L642.18 229.23L696.66 240.50" fill="none" stroke="#a30021" stroke-width="1.6" stroke-linejoin="round"/>
<path d="M111.00 428.11V402.40M111.00 441.11V1006.00M138.24 395.70V375.69M138.24 408.70V471.95M165.48 346.10V335.70M165.48 359.10V379.62M179.10 364.16V351.10M179.10 377.16V405.41M192.72 340.76V331.24M192.72 353.76V372.05M206.34 353.40V342.76M206.34 366.40V387.56M219.96 298.52V294.17M219.96 311.52V319.24M233.58 294.23V290.57M233.58 307.23V312.73M247.20 265.00V263.63M247.20 278.00V280.53M260.82 265.82V266.25M274.44 253.40V253.31M274.44 266.40V267.59M288.06 257.35V257.66M342.54 232.67V227.39" fill="none" stroke="#a30021" stroke-width="1.5"/>
<path d="M108.60 402.40H113.40M108.60 1006.00H113.40M135.84 375.69H140.64M135.84 471.95H140.64M163.08 335.70H167.88M163.08 379.62H167.88M176.70 351.10H181.50M176.70 405.41H181.50M190.32 331.24H195.12M190.32 372.05H195.12M203.94 342.76H208.74M203.94 387.56H208.74M217.56 294.17H222.36M217.56 319.24H222.36M231.18 290.57H235.98M231.18 312.73H235.98M244.80 263.63H249.60M244.80 280.53H249.60M258.42 266.25H263.22M272.04 253.31H276.84M272.04 267.59H276.84M285.66 257.66H290.46M340.14 227.39H344.94" fill="none" stroke="#a30021" stroke-width="1.6"/>
<path d="M111.00 428.21L116.80 439.81H105.20Z" fill="none" stroke="#a30021" stroke-width="1.6" stroke-linejoin="miter"/>
<path d="M138.24 395.80L144.04 407.40H132.44Z" fill="none" stroke="#a30021" stroke-width="1.6" stroke-linejoin="miter"/>
<path d="M165.48 346.20L171.28 357.80H159.68Z" fill="none" stroke="#a30021" stroke-width="1.6" stroke-linejoin="miter"/>
<path d="M179.10 364.26L184.90 375.86H173.30Z" fill="none" stroke="#a30021" stroke-width="1.6" stroke-linejoin="miter"/>
<path d="M192.72 340.86L198.52 352.46H186.92Z" fill="none" stroke="#a30021" stroke-width="1.6" stroke-linejoin="miter"/>
<path d="M206.34 353.50L212.14 365.10H200.54Z" fill="none" stroke="#a30021" stroke-width="1.6" stroke-linejoin="miter"/>
<path d="M219.96 298.62L225.76 310.22H214.16Z" fill="none" stroke="#a30021" stroke-width="1.6" stroke-linejoin="miter"/>
<path d="M233.58 294.33L239.38 305.93H227.78Z" fill="none" stroke="#a30021" stroke-width="1.6" stroke-linejoin="miter"/>
<path d="M247.20 265.10L253.00 276.70H241.40Z" fill="none" stroke="#a30021" stroke-width="1.6" stroke-linejoin="miter"/>
<path d="M260.82 252.92L266.62 264.52H255.02Z" fill="none" stroke="#a30021" stroke-width="1.6" stroke-linejoin="miter"/>
<path d="M274.44 253.50L280.24 265.10H268.64Z" fill="none" stroke="#a30021" stroke-width="1.6" stroke-linejoin="miter"/>
<path d="M288.06 244.45L293.86 256.05H282.26Z" fill="none" stroke="#a30021" stroke-width="1.6" stroke-linejoin="miter"/>
<path d="M301.68 230.78L307.48 242.38H295.88Z" fill="none" stroke="#a30021" stroke-width="1.6" stroke-linejoin="miter"/>
<path d="M315.30 240.10L321.10 251.70H309.50Z" fill="none" stroke="#a30021" stroke-width="1.6" stroke-linejoin="miter"/>
<path d="M328.92 232.02L334.72 243.62H323.12Z" fill="none" stroke="#a30021" stroke-width="1.6" stroke-linejoin="miter"/>
<path d="M342.54 232.77L348.34 244.37H336.74Z" fill="none" stroke="#a30021" stroke-width="1.6" stroke-linejoin="miter"/>
<path d="M356.16 232.31L361.96 243.91H350.36Z" fill="none" stroke="#a30021" stroke-width="1.6" stroke-linejoin="miter"/>
<path d="M369.78 211.99L375.58 223.59H363.98Z" fill="none" stroke="#a30021" stroke-width="1.6" stroke-linejoin="miter"/>
<path d="M383.40 221.77L389.20 233.37H377.60Z" fill="none" stroke="#a30021" stroke-width="1.6" stroke-linejoin="miter"/>
<path d="M397.02 210.34L402.82 221.94H391.22Z" fill="none" stroke="#a30021" stroke-width="1.6" stroke-linejoin="miter"/>
<path d="M410.64 212.85L416.44 224.45H404.84Z" fill="none" stroke="#a30021" stroke-width="1.6" stroke-linejoin="miter"/>
<path d="M424.26 198.53L430.06 210.13H418.46Z" fill="none" stroke="#a30021" stroke-width="1.6" stroke-linejoin="miter"/>
<path d="M437.88 211.04L443.68 222.64H432.08Z" fill="none" stroke="#a30021" stroke-width="1.6" stroke-linejoin="miter"/>
<path d="M451.50 202.38L457.30 213.98H445.70Z" fill="none" stroke="#a30021" stroke-width="1.6" stroke-linejoin="miter"/>
<path d="M465.12 193.08L470.92 204.68H459.32Z" fill="none" stroke="#a30021" stroke-width="1.6" stroke-linejoin="miter"/>
<path d="M478.74 211.84L484.54 223.44H472.94Z" fill="none" stroke="#a30021" stroke-width="1.6" stroke-linejoin="miter"/>
<path d="M499.17 200.93L504.97 212.53H493.37Z" fill="none" stroke="#a30021" stroke-width="1.6" stroke-linejoin="miter"/>
<path d="M526.41 201.81L532.21 213.41H520.61Z" fill="none" stroke="#a30021" stroke-width="1.6" stroke-linejoin="miter"/>
<path d="M553.65 206.76L559.45 218.36H547.85Z" fill="none" stroke="#a30021" stroke-width="1.6" stroke-linejoin="miter"/>
<path d="M580.89 212.61L586.69 224.21H575.09Z" fill="none" stroke="#a30021" stroke-width="1.6" stroke-linejoin="miter"/>
<path d="M608.13 220.39L613.93 231.99H602.33Z" fill="none" stroke="#a30021" stroke-width="1.6" stroke-linejoin="miter"/>
<path d="M642.18 222.83L647.98 234.43H636.38Z" fill="none" stroke="#a30021" stroke-width="1.6" stroke-linejoin="miter"/>
<path d="M696.66 234.10L702.46 245.70H690.86Z" fill="none" stroke="#a30021" stroke-width="1.6" stroke-linejoin="miter"/>
<path d="M138.24 432.85L151.86 428.50L165.48 383.40L179.10 370.24L192.72 365.19L206.34 337.72L219.96 310.85L233.58 300.31L247.20 298.54L260.82 282.27L274.44 282.87L288.06 258.67L301.68 247.57L315.30 241.27L328.92 234.01L342.54 232.40L356.16 230.10L369.78 228.78L383.40 228.67L397.02 212.64L410.64 209.44L424.26 209.65L437.88 217.55L451.50 219.96L465.12 212.26L478.74 222.83L499.17 213.79L526.41 213.64L553.65 217.57L580.89 221.66L608.13 216.28L642.18 229.34L696.66 237.56" fill="none" stroke="#6b2448" stroke-width="1.6" stroke-dasharray="7.2 3.9 1.6 3.9" stroke-linejoin="round"/>
<path d="M138.24 427.85V400.87M138.24 437.85V1006.00M151.86 423.50V396.52M151.86 433.50V1006.00M165.48 378.40V374.15M165.48 388.40V395.00M179.10 365.24V351.71M179.10 375.24V401.81M192.72 360.19V346.65M192.72 370.19V396.75M206.34 332.72V326.45M206.34 342.72V352.68M219.96 305.85V299.58M219.96 315.85V325.81M233.58 295.31V290.57M233.58 305.31V312.73M247.20 293.54V288.49M247.20 303.54V311.46M260.82 277.27V274.16M260.82 287.27V292.11M274.44 277.87V274.37M274.44 287.87V293.24M288.06 253.67V250.16M288.06 263.67V269.12M301.68 242.57V241.51M301.68 252.57V254.56M315.30 236.27V236.05M315.30 246.27V247.17M328.92 229.01V228.79M328.92 239.01V239.91M342.54 227.40V227.18M342.54 237.40V238.30M356.16 235.10V235.64M369.78 233.78V234.32M383.40 233.67V233.89" fill="none" stroke="#6b2448" stroke-width="1.5" stroke-dasharray="7.2 3.9 1.6 3.9"/>
<path d="M135.84 400.87H140.64M135.84 1006.00H140.64M149.46 396.52H154.26M149.46 1006.00H154.26M163.08 374.15H167.88M163.08 395.00H167.88M176.70 351.71H181.50M176.70 401.81H181.50M190.32 346.65H195.12M190.32 396.75H195.12M203.94 326.45H208.74M203.94 352.68H208.74M217.56 299.58H222.36M217.56 325.81H222.36M231.18 290.57H235.98M231.18 312.73H235.98M244.80 288.49H249.60M244.80 311.46H249.60M258.42 274.16H263.22M258.42 292.11H263.22M272.04 274.37H276.84M272.04 293.24H276.84M285.66 250.16H290.46M285.66 269.12H290.46M299.28 241.51H304.08M299.28 254.56H304.08M312.90 236.05H317.70M312.90 247.17H317.70M326.52 228.79H331.32M326.52 239.91H331.32M340.14 227.18H344.94M340.14 238.30H344.94M353.76 235.64H358.56M367.38 234.32H372.18M381.00 233.89H385.80" fill="none" stroke="#6b2448" stroke-width="1.6"/>
<rect x="133.79" y="428.00" width="8.9" height="8.9" fill="none" stroke="#6b2448" stroke-width="1.25"/>
<rect x="147.41" y="423.65" width="8.9" height="8.9" fill="none" stroke="#6b2448" stroke-width="1.25"/>
<rect x="161.03" y="378.55" width="8.9" height="8.9" fill="none" stroke="#6b2448" stroke-width="1.25"/>
<rect x="174.65" y="365.39" width="8.9" height="8.9" fill="none" stroke="#6b2448" stroke-width="1.25"/>
<rect x="188.27" y="360.34" width="8.9" height="8.9" fill="none" stroke="#6b2448" stroke-width="1.25"/>
<rect x="201.89" y="332.87" width="8.9" height="8.9" fill="none" stroke="#6b2448" stroke-width="1.25"/>
<rect x="215.51" y="306.00" width="8.9" height="8.9" fill="none" stroke="#6b2448" stroke-width="1.25"/>
<rect x="229.13" y="295.46" width="8.9" height="8.9" fill="none" stroke="#6b2448" stroke-width="1.25"/>
<rect x="242.75" y="293.69" width="8.9" height="8.9" fill="none" stroke="#6b2448" stroke-width="1.25"/>
<rect x="256.37" y="277.42" width="8.9" height="8.9" fill="none" stroke="#6b2448" stroke-width="1.25"/>
<rect x="269.99" y="278.02" width="8.9" height="8.9" fill="none" stroke="#6b2448" stroke-width="1.25"/>
<rect x="283.61" y="253.82" width="8.9" height="8.9" fill="none" stroke="#6b2448" stroke-width="1.25"/>
<rect x="297.23" y="242.72" width="8.9" height="8.9" fill="none" stroke="#6b2448" stroke-width="1.25"/>
<rect x="310.85" y="236.42" width="8.9" height="8.9" fill="none" stroke="#6b2448" stroke-width="1.25"/>
<rect x="324.47" y="229.16" width="8.9" height="8.9" fill="none" stroke="#6b2448" stroke-width="1.25"/>
<rect x="338.09" y="227.55" width="8.9" height="8.9" fill="none" stroke="#6b2448" stroke-width="1.25"/>
<rect x="351.71" y="225.25" width="8.9" height="8.9" fill="none" stroke="#6b2448" stroke-width="1.25"/>
<rect x="365.33" y="223.93" width="8.9" height="8.9" fill="none" stroke="#6b2448" stroke-width="1.25"/>
<rect x="378.95" y="223.82" width="8.9" height="8.9" fill="none" stroke="#6b2448" stroke-width="1.25"/>
<rect x="392.57" y="207.79" width="8.9" height="8.9" fill="none" stroke="#6b2448" stroke-width="1.25"/>
<rect x="406.19" y="204.59" width="8.9" height="8.9" fill="none" stroke="#6b2448" stroke-width="1.25"/>
<rect x="419.81" y="204.80" width="8.9" height="8.9" fill="none" stroke="#6b2448" stroke-width="1.25"/>
<rect x="433.43" y="212.70" width="8.9" height="8.9" fill="none" stroke="#6b2448" stroke-width="1.25"/>
<rect x="447.05" y="215.11" width="8.9" height="8.9" fill="none" stroke="#6b2448" stroke-width="1.25"/>
<rect x="460.67" y="207.41" width="8.9" height="8.9" fill="none" stroke="#6b2448" stroke-width="1.25"/>
<rect x="474.29" y="217.98" width="8.9" height="8.9" fill="none" stroke="#6b2448" stroke-width="1.25"/>
<rect x="494.72" y="208.94" width="8.9" height="8.9" fill="none" stroke="#6b2448" stroke-width="1.25"/>
<rect x="521.96" y="208.79" width="8.9" height="8.9" fill="none" stroke="#6b2448" stroke-width="1.25"/>
<rect x="549.20" y="212.72" width="8.9" height="8.9" fill="none" stroke="#6b2448" stroke-width="1.25"/>
<rect x="576.44" y="216.81" width="8.9" height="8.9" fill="none" stroke="#6b2448" stroke-width="1.25"/>
<rect x="603.68" y="211.43" width="8.9" height="8.9" fill="none" stroke="#6b2448" stroke-width="1.25"/>
<rect x="637.73" y="224.49" width="8.9" height="8.9" fill="none" stroke="#6b2448" stroke-width="1.25"/>
<rect x="692.21" y="232.71" width="8.9" height="8.9" fill="none" stroke="#6b2448" stroke-width="1.25"/>
<path d="M138.24 400.42L151.86 376.40L165.48 368.70L179.10 400.80L192.72 306.59L206.34 301.91L219.96 292.21L233.58 262.22L247.20 257.89L260.82 247.22L274.44 236.38L288.06 228.11L301.68 223.52L315.30 218.20L328.92 220.04L342.54 213.26L356.16 208.31L369.78 218.31L383.40 201.31L397.02 194.80L410.64 209.36L424.26 206.61L437.88 209.01L451.50 209.01L465.12 202.68L478.74 213.12L499.17 208.96L526.41 218.37L553.65 218.20L580.89 228.54L608.13 233.51L642.18 241.57L696.66 259.79" fill="none" stroke="#ff7f33" stroke-width="1.6" stroke-dasharray="7.2 3.9 1.6 3.9" stroke-linejoin="round"/>
<path d="M138.24 396.32V376.06M138.24 404.52V455.63M151.86 372.30V356.20M151.86 380.50V397.00M165.48 364.60V350.15M165.48 372.80V400.30M179.10 396.70V376.32M179.10 404.90V456.70M192.72 302.49V295.41M192.72 310.69V320.64M206.34 297.81V291.86M206.34 306.01V314.62M219.96 288.11V282.75M219.96 296.31V304.12M233.58 258.12V255.34M233.58 266.32V270.09M247.20 253.79V251.13M247.20 261.99V265.96M260.82 243.12V241.68M260.82 251.32V252.76M274.44 232.28V231.13M274.44 240.48V242.63M288.06 224.01V223.39M288.06 232.21V233.44M301.68 219.42V218.85M301.68 227.62V228.77M315.30 222.30V222.92M328.92 215.94V215.79M328.92 224.14V224.82M342.54 217.36V217.99M369.78 222.41V222.72M437.88 213.11V213.19M451.50 213.11V213.41M478.74 217.22V217.49M499.17 213.06V213.33" fill="none" stroke="#ff7f33" stroke-width="1.5" stroke-dasharray="7.2 3.9 1.6 3.9"/>
<path d="M135.84 376.06H140.64M135.84 455.63H140.64M149.46 356.20H154.26M149.46 397.00H154.26M163.08 350.15H167.88M163.08 400.30H167.88M176.70 376.32H181.50M176.70 456.70H181.50M190.32 295.41H195.12M190.32 320.64H195.12M203.94 291.86H208.74M203.94 314.62H208.74M217.56 282.75H222.36M217.56 304.12H222.36M231.18 255.34H235.98M231.18 270.09H235.98M244.80 251.13H249.60M244.80 265.96H249.60M258.42 241.68H263.22M258.42 252.76H263.22M272.04 231.13H276.84M272.04 242.63H276.84M285.66 223.39H290.46M285.66 233.44H290.46M299.28 218.85H304.08M299.28 228.77H304.08M312.90 222.92H317.70M326.52 215.79H331.32M326.52 224.82H331.32M340.14 217.99H344.94M367.38 222.72H372.18M435.48 213.19H440.28M449.10 213.41H453.90M476.34 217.49H481.14M496.77 213.33H501.57" fill="none" stroke="#ff7f33" stroke-width="1.6"/>
<rect x="134.14" y="396.32" width="8.2" height="8.2" fill="#ff7f33"/>
<rect x="147.76" y="372.30" width="8.2" height="8.2" fill="#ff7f33"/>
<rect x="161.38" y="364.60" width="8.2" height="8.2" fill="#ff7f33"/>
<rect x="175.00" y="396.70" width="8.2" height="8.2" fill="#ff7f33"/>
<rect x="188.62" y="302.49" width="8.2" height="8.2" fill="#ff7f33"/>
<rect x="202.24" y="297.81" width="8.2" height="8.2" fill="#ff7f33"/>
<rect x="215.86" y="288.11" width="8.2" height="8.2" fill="#ff7f33"/>
<rect x="229.48" y="258.12" width="8.2" height="8.2" fill="#ff7f33"/>
<rect x="243.10" y="253.79" width="8.2" height="8.2" fill="#ff7f33"/>
<rect x="256.72" y="243.12" width="8.2" height="8.2" fill="#ff7f33"/>
<rect x="270.34" y="232.28" width="8.2" height="8.2" fill="#ff7f33"/>
<rect x="283.96" y="224.01" width="8.2" height="8.2" fill="#ff7f33"/>
<rect x="297.58" y="219.42" width="8.2" height="8.2" fill="#ff7f33"/>
<rect x="311.20" y="214.10" width="8.2" height="8.2" fill="#ff7f33"/>
<rect x="324.82" y="215.94" width="8.2" height="8.2" fill="#ff7f33"/>
<rect x="338.44" y="209.16" width="8.2" height="8.2" fill="#ff7f33"/>
<rect x="352.06" y="204.21" width="8.2" height="8.2" fill="#ff7f33"/>
<rect x="365.68" y="214.21" width="8.2" height="8.2" fill="#ff7f33"/>
<rect x="379.30" y="197.21" width="8.2" height="8.2" fill="#ff7f33"/>
<rect x="392.92" y="190.70" width="8.2" height="8.2" fill="#ff7f33"/>
<rect x="406.54" y="205.26" width="8.2" height="8.2" fill="#ff7f33"/>
<rect x="420.16" y="202.51" width="8.2" height="8.2" fill="#ff7f33"/>
<rect x="433.78" y="204.91" width="8.2" height="8.2" fill="#ff7f33"/>
<rect x="447.40" y="204.91" width="8.2" height="8.2" fill="#ff7f33"/>
<rect x="461.02" y="198.58" width="8.2" height="8.2" fill="#ff7f33"/>
<rect x="474.64" y="209.02" width="8.2" height="8.2" fill="#ff7f33"/>
<rect x="495.07" y="204.86" width="8.2" height="8.2" fill="#ff7f33"/>
<rect x="522.31" y="214.27" width="8.2" height="8.2" fill="#ff7f33"/>
<rect x="549.55" y="214.10" width="8.2" height="8.2" fill="#ff7f33"/>
<rect x="576.79" y="224.44" width="8.2" height="8.2" fill="#ff7f33"/>
<rect x="604.03" y="229.41" width="8.2" height="8.2" fill="#ff7f33"/>
<rect x="638.08" y="237.47" width="8.2" height="8.2" fill="#ff7f33"/>
<rect x="692.56" y="255.69" width="8.2" height="8.2" fill="#ff7f33"/>
<path d="M111.00 439.50L138.24 441.10L151.86 434.01L165.48 439.18L179.10 388.50L192.72 313.44L206.34 324.72L219.96 310.01L233.58 283.80L247.20 290.14L260.82 273.24L274.44 255.75L288.06 253.53L301.68 238.23L315.30 239.41L328.92 229.29L342.54 225.47L356.16 236.45L369.78 216.21L383.40 221.58L397.02 203.61L410.64 210.67L424.26 207.39L437.88 213.11L451.50 214.42L465.12 207.39L478.74 220.68L499.17 212.64L526.41 213.74L553.65 219.54L580.89 218.20L608.13 222.09L642.18 230.02L696.66 244.75" fill="none" stroke="#0000e6" stroke-width="1.6" stroke-linejoin="round"/>
<path d="M111.00 434.30V407.44M111.00 444.70V1006.00M138.24 435.90V407.10M138.24 446.30V1006.00M151.86 428.81V402.04M151.86 439.21V1006.00M165.48 433.98V407.37M165.48 444.38V1006.00M179.10 383.30V367.80M179.10 393.70V427.80M192.72 308.24V302.18M192.72 318.64V328.40M206.34 319.52V312.78M206.34 329.92V340.21M219.96 304.81V299.27M219.96 315.21V323.55M233.58 278.60V275.84M233.58 289.00V293.04M247.20 284.94V281.35M247.20 295.34V300.59M260.82 268.04V266.25M260.82 278.44V281.24M274.44 250.55V249.37M274.44 260.95V263.16M288.06 248.33V247.59M288.06 258.73V259.69M301.68 233.03V232.82M315.30 234.21V234.11M342.54 230.67V230.84" fill="none" stroke="#0000e6" stroke-width="1.5"/>
<path d="M108.60 407.44H113.40M108.60 1006.00H113.40M135.84 407.10H140.64M135.84 1006.00H140.64M149.46 402.04H154.26M149.46 1006.00H154.26M163.08 407.37H167.88M163.08 1006.00H167.88M176.70 367.80H181.50M176.70 427.80H181.50M190.32 302.18H195.12M190.32 328.40H195.12M203.94 312.78H208.74M203.94 340.21H208.74M217.56 299.27H222.36M217.56 323.55H222.36M231.18 275.84H235.98M231.18 293.04H235.98M244.80 281.35H249.60M244.80 300.59H249.60M258.42 266.25H263.22M258.42 281.24H263.22M272.04 249.37H276.84M272.04 263.16H276.84M285.66 247.59H290.46M285.66 259.69H290.46M299.28 232.82H304.08M312.90 234.11H317.70M340.14 230.84H344.94" fill="none" stroke="#0000e6" stroke-width="1.6"/>
<path d="M111.00 433.90L116.30 444.10H105.70Z" fill="#0000e6"/>
<path d="M138.24 435.50L143.54 445.70H132.94Z" fill="#0000e6"/>
<path d="M151.86 428.41L157.16 438.61H146.56Z" fill="#0000e6"/>
<path d="M165.48 433.58L170.78 443.78H160.18Z" fill="#0000e6"/>
<path d="M179.10 382.90L184.40 393.10H173.80Z" fill="#0000e6"/>
<path d="M192.72 307.84L198.02 318.04H187.42Z" fill="#0000e6"/>
<path d="M206.34 319.12L211.64 329.32H201.04Z" fill="#0000e6"/>
<path d="M219.96 304.41L225.26 314.61H214.66Z" fill="#0000e6"/>
<path d="M233.58 278.20L238.88 288.40H228.28Z" fill="#0000e6"/>
<path d="M247.20 284.54L252.50 294.74H241.90Z" fill="#0000e6"/>
<path d="M260.82 267.64L266.12 277.84H255.52Z" fill="#0000e6"/>
<path d="M274.44 250.15L279.74 260.35H269.14Z" fill="#0000e6"/>
<path d="M288.06 247.93L293.36 258.13H282.76Z" fill="#0000e6"/>
<path d="M301.68 232.63L306.98 242.83H296.38Z" fill="#0000e6"/>
<path d="M315.30 233.81L320.60 244.01H310.00Z" fill="#0000e6"/>
<path d="M328.92 223.69L334.22 233.89H323.62Z" fill="#0000e6"/>
<path d="M342.54 219.87L347.84 230.07H337.24Z" fill="#0000e6"/>
<path d="M356.16 230.85L361.46 241.05H350.86Z" fill="#0000e6"/>
<path d="M369.78 210.61L375.08 220.81H364.48Z" fill="#0000e6"/>
<path d="M383.40 215.98L388.70 226.18H378.10Z" fill="#0000e6"/>
<path d="M397.02 198.01L402.32 208.21H391.72Z" fill="#0000e6"/>
<path d="M410.64 205.07L415.94 215.27H405.34Z" fill="#0000e6"/>
<path d="M424.26 201.79L429.56 211.99H418.96Z" fill="#0000e6"/>
<path d="M437.88 207.51L443.18 217.71H432.58Z" fill="#0000e6"/>
<path d="M451.50 208.82L456.80 219.02H446.20Z" fill="#0000e6"/>
<path d="M465.12 201.79L470.42 211.99H459.82Z" fill="#0000e6"/>
<path d="M478.74 215.08L484.04 225.28H473.44Z" fill="#0000e6"/>
<path d="M499.17 207.04L504.47 217.24H493.87Z" fill="#0000e6"/>
<path d="M526.41 208.14L531.71 218.34H521.11Z" fill="#0000e6"/>
<path d="M553.65 213.94L558.95 224.14H548.35Z" fill="#0000e6"/>
<path d="M580.89 212.60L586.19 222.80H575.59Z" fill="#0000e6"/>
<path d="M608.13 216.49L613.43 226.69H602.83Z" fill="#0000e6"/>
<path d="M642.18 224.42L647.48 234.62H636.88Z" fill="#0000e6"/>
<path d="M696.66 239.15L701.96 249.35H691.36Z" fill="#0000e6"/>
</g>
<rect x="147.85" y="118.95" width="11" height="11" fill="#000"/>
<path d="M128.8 150.3H177" stroke="#a30021" stroke-width="1.6"/>
<path d="M153.25 144.9L158.85 155.5H147.65Z" fill="none" stroke="#a30021" stroke-width="1.6"/>
<path d="M128.8 176.3H177" stroke="#6b2448" stroke-width="1.6" stroke-dasharray="7.2 3.9 1.6 3.9"/>
<rect x="148.5" y="171.6" width="9.6" height="9.6" fill="none" stroke="#6b2448" stroke-width="1.3"/>
<path d="M128.8 202.2H177" stroke="#ff7f33" stroke-width="1.6" stroke-dasharray="7.2 3.9 1.6 3.9"/>
<rect x="149.20" y="198.10" width="8.2" height="8.2" fill="#ff7f33"/>
<path d="M128.8 228.6H177" stroke="#0000e6" stroke-width="1.6"/>
<path d="M153.30 222.80L158.60 233.00H148.00Z" fill="#0000e6"/>
<text x="187.30" y="129.70" font-size="19">ATLAS</text>
<text x="187.30" y="155.70" font-size="19">Pythia 6.428 370</text>
<text x="187.30" y="182.60" font-size="19">Pythia 6.428 39</text><path transform="translate(319.34 182.60) scale(0.00928 -0.00928)" d="M570 0H763V1466H640C622 1378 577 1308 500 1266C430 1228 340 1212 223 1208V1072H570Z" fill="#000"/>
<text x="187.30" y="208.70" font-size="19">Pythia 6.428 default</text>
<text x="187.30" y="233.70" font-size="19">Pythia 8.3</text><path transform="translate(271.80 233.70) scale(0.00928 -0.00928)" d="M570 0H763V1466H640C622 1378 577 1308 500 1266C430 1228 340 1212 223 1208V1072H570Z" fill="#000"/><text x="282.36" y="233.70" font-size="19">5 default</text>
<path d="M96.75 635.00L96.75 637.80M96.75 956.00L96.75 953.20M111.00 635.00L111.00 645.00M111.00 956.00L111.00 946.00M125.25 635.00L125.25 637.80M125.25 956.00L125.25 953.20M139.50 635.00L139.50 639.80M139.50 956.00L139.50 951.20M153.75 635.00L153.75 637.80M153.75 956.00L153.75 953.20M168.00 635.00L168.00 639.80M168.00 956.00L168.00 951.20M182.25 635.00L182.25 637.80M182.25 956.00L182.25 953.20M196.51 635.00L196.51 639.80M196.51 956.00L196.51 951.20M210.76 635.00L210.76 637.80M210.76 956.00L210.76 953.20M225.01 635.00L225.01 639.80M225.01 956.00L225.01 951.20M239.26 635.00L239.26 637.80M239.26 956.00L239.26 953.20M253.51 635.00L253.51 645.00M253.51 956.00L253.51 946.00M267.76 635.00L267.76 637.80M267.76 956.00L267.76 953.20M282.01 635.00L282.01 639.80M282.01 956.00L282.01 951.20M296.26 635.00L296.26 637.80M296.26 956.00L296.26 953.20M310.51 635.00L310.51 639.80M310.51 956.00L310.51 951.20M324.76 635.00L324.76 637.80M324.76 956.00L324.76 953.20M339.02 635.00L339.02 639.80M339.02 956.00L339.02 951.20M353.27 635.00L353.27 637.80M353.27 956.00L353.27 953.20M367.52 635.00L367.52 639.80M367.52 956.00L367.52 951.20M381.77 635.00L381.77 637.80M381.77 956.00L381.77 953.20M396.02 635.00L396.02 645.00M396.02 956.00L396.02 946.00M410.27 635.00L410.27 637.80M410.27 956.00L410.27 953.20M424.52 635.00L424.52 639.80M424.52 956.00L424.52 951.20M438.77 635.00L438.77 637.80M438.77 956.00L438.77 953.20M453.02 635.00L453.02 639.80M453.02 956.00L453.02 951.20M467.27 635.00L467.27 637.80M467.27 956.00L467.27 953.20M481.53 635.00L481.53 639.80M481.53 956.00L481.53 951.20M495.78 635.00L495.78 637.80M495.78 956.00L495.78 953.20M510.03 635.00L510.03 639.80M510.03 956.00L510.03 951.20M524.28 635.00L524.28 637.80M524.28 956.00L524.28 953.20M538.53 635.00L538.53 645.00M538.53 956.00L538.53 946.00M552.78 635.00L552.78 637.80M552.78 956.00L552.78 953.20M567.03 635.00L567.03 639.80M567.03 956.00L567.03 951.20M581.28 635.00L581.28 637.80M581.28 956.00L581.28 953.20M595.53 635.00L595.53 639.80M595.53 956.00L595.53 951.20M609.78 635.00L609.78 637.80M609.78 956.00L609.78 953.20M624.04 635.00L624.04 639.80M624.04 956.00L624.04 951.20M638.29 635.00L638.29 637.80M638.29 956.00L638.29 953.20M652.54 635.00L652.54 639.80M652.54 956.00L652.54 951.20M666.79 635.00L666.79 637.80M666.79 956.00L666.79 953.20M681.04 635.00L681.04 645.00M681.04 956.00L681.04 946.00M695.29 635.00L695.29 637.80M695.29 956.00L695.29 953.20M709.54 635.00L709.54 639.80M709.54 956.00L709.54 951.20M723.79 635.00L723.79 637.80M723.79 956.00L723.79 953.20M738.04 635.00L738.04 639.80M738.04 956.00L738.04 951.20M91.00 916.72L105.85 916.72M742.00 916.72L728.40 916.72M91.00 884.81L101.10 884.81M742.00 884.81L732.00 884.81M91.00 857.83L101.10 857.83M742.00 857.83L732.00 857.83M91.00 834.45L101.10 834.45M742.00 834.45L732.00 834.45M91.00 813.84L101.10 813.84M742.00 813.84L732.00 813.84M91.00 795.40L105.85 795.40M742.00 795.40L728.40 795.40M91.00 778.72L101.10 778.72M742.00 778.72L732.00 778.72M91.00 763.49L101.10 763.49M742.00 763.49L732.00 763.49M91.00 749.48L101.10 749.48M742.00 749.48L732.00 749.48M91.00 736.51L101.10 736.51M742.00 736.51L732.00 736.51M91.00 724.44L105.85 724.44M742.00 724.44L728.40 724.44M91.00 713.14L101.10 713.14M742.00 713.14L732.00 713.14M91.00 702.53L101.10 702.53M742.00 702.53L732.00 702.53M91.00 692.53L101.10 692.53M742.00 692.53L732.00 692.53M91.00 683.06L101.10 683.06M742.00 683.06L732.00 683.06M91.00 674.08L105.85 674.08M742.00 674.08L728.40 674.08M91.00 665.55L101.10 665.55M742.00 665.55L732.00 665.55M91.00 657.40L101.10 657.40M742.00 657.40L732.00 657.40M91.00 649.62L101.10 649.62M742.00 649.62L732.00 649.62M91.00 642.17L101.10 642.17M742.00 642.17L732.00 642.17" stroke="#000" stroke-width="1.6" fill="none"/>
<path d="M91 795.5H742" stroke="#000" stroke-width="1.1"/>
<path d="M91 35H742V956H91Z M91 635H742" stroke="#000" stroke-width="2" fill="none"/>
<path transform="translate(102.60 28.50) scale(0.01191 -0.01191)" d="M570 0H763V1466H640C622 1378 577 1308 500 1266C430 1228 340 1212 223 1208V1072H570Z" fill="#000"/><text x="116.17" y="28.50" font-size="24.4">3000 GeV pp</text>
<text x="730.3" y="28.5" font-size="24" text-anchor="end">Z+Jet</text>
<path transform="translate(54.83 65.00) scale(0.01074 -0.01074)" d="M570 0H763V1466H640C622 1378 577 1308 500 1266C430 1228 340 1212 223 1208V1072H570Z" fill="#000"/><text x="67.06" y="65.00" font-size="22">0</text>
<path transform="translate(70.86 171.00) scale(0.01074 -0.01074)" d="M570 0H763V1466H640C622 1378 577 1308 500 1266C430 1228 340 1212 223 1208V1072H570Z" fill="#000"/>
<path transform="translate(41.03 278.00) scale(0.01074 -0.01074)" d="M570 0H763V1466H640C622 1378 577 1308 500 1266C430 1228 340 1212 223 1208V1072H570Z" fill="#000"/><text x="53.26" y="278.00" font-size="22">0</text>
<path d="M65.3 265.3H72.7" stroke="#000" stroke-width="1.3"/>
<path transform="translate(74.17 268.70) scale(0.00732 -0.00732)" d="M570 0H763V1466H640C622 1378 577 1308 500 1266C430 1228 340 1212 223 1208V1072H570Z" fill="#000"/>
<path transform="translate(37.83 385.00) scale(0.01074 -0.01074)" d="M570 0H763V1466H640C622 1378 577 1308 500 1266C430 1228 340 1212 223 1208V1072H570Z" fill="#000"/><text x="50.06" y="385.00" font-size="22">0</text>
<path d="M62.2 371H69.7" stroke="#000" stroke-width="1.3"/>
<text x="70.45" y="375" font-size="15">2</text>
<path transform="translate(37.83 490.00) scale(0.01074 -0.01074)" d="M570 0H763V1466H640C622 1378 577 1308 500 1266C430 1228 340 1212 223 1208V1072H570Z" fill="#000"/><text x="50.06" y="490.00" font-size="22">0</text>
<path d="M62.2 476H69.7" stroke="#000" stroke-width="1.3"/>
<text x="70.63" y="480.2" font-size="15">3</text>
<path transform="translate(37.83 596.00) scale(0.01074 -0.01074)" d="M570 0H763V1466H640C622 1378 577 1308 500 1266C430 1228 340 1212 223 1208V1072H570Z" fill="#000"/><text x="50.06" y="596.00" font-size="22">0</text>
<path d="M62.2 583.2H69.7" stroke="#000" stroke-width="1.3"/>
<text x="70.86" y="587.1" font-size="15">4</text>
<text x="64.43" y="683.00" font-size="23.5">2</text>
<text x="747.00" y="683.00" font-size="23.5">2</text>
<path transform="translate(65.23 805.00) scale(0.01147 -0.01147)" d="M570 0H763V1466H640C622 1378 577 1308 500 1266C430 1228 340 1212 223 1208V1072H570Z" fill="#000"/>
<path transform="translate(747.10 805.00) scale(0.01147 -0.01147)" d="M570 0H763V1466H640C622 1378 577 1308 500 1266C430 1228 340 1212 223 1208V1072H570Z" fill="#000"/>
<text x="44.83" y="926.00" font-size="23.5">0.5</text>
<text x="747.00" y="926.00" font-size="23.5">0.5</text>
<text x="104.47" y="978.00" font-size="23.5">0</text>
<path transform="translate(249.48 978.00) scale(0.01147 -0.01147)" d="M570 0H763V1466H640C622 1378 577 1308 500 1266C430 1228 340 1212 223 1208V1072H570Z" fill="#000"/>
<text x="389.49" y="978.00" font-size="23.5">2</text>
<text x="532.00" y="978.00" font-size="23.5">3</text>
<text x="674.51" y="978.00" font-size="23.5">4</text>
<text transform="translate(636.11 1004.80) scale(1 1)" font-size="25.5">N</text>
<text transform="translate(652.78 1013.00) scale(1 1)" font-size="17">ch</text>
<text transform="translate(670.30 1004.80) scale(1 1)" font-size="25.5">/</text>
<text transform="translate(676.83 1004.80) scale(1 1)" font-size="25.5">d</text>
<text transform="translate(690.08 1004.80) scale(1.15 1.0)" font-size="25.5">η</text>
<text transform="translate(711.53 1004.80) scale(1 1)" font-size="25.5">d</text>
<text transform="translate(724.33 1004.80) scale(0.87 0.9)" font-size="25.5">ϕ</text>
<path transform="translate(31.10 264.0) rotate(-90) translate(-2.68 0.00) scale(0.01245 -0.01245)" d="M570 0H763V1466H640C622 1378 577 1308 500 1266C430 1228 340 1212 223 1208V1072H570Z" fill="#000"/>
<text transform="translate(31.10 264.0) rotate(-90) translate(11.80 0) scale(1 1)" font-size="25.5">/</text>
<text transform="translate(31.10 264.0) rotate(-90) translate(17.91 0) scale(1 1)" font-size="25.5">N</text>
<text transform="translate(37.30 264.0) rotate(-90) translate(35.00 0) scale(1 1)" font-size="16.5">ev</text>
<text transform="translate(31.10 264.0) rotate(-90) translate(58.83 0) scale(1 1)" font-size="25.5">d</text>
<text transform="translate(31.10 264.0) rotate(-90) translate(71.51 0) scale(1 1)" font-size="25.5">N</text>
<text transform="translate(37.30 264.0) rotate(-90) translate(87.80 0) scale(1 1)" font-size="16.5">ev</text>
<text transform="translate(31.10 264.0) rotate(-90) translate(104.80 0) scale(1 1)" font-size="25.5">/</text>
<text transform="translate(31.10 264.0) rotate(-90) translate(111.63 0) scale(1 1)" font-size="25.5">d</text>
<text transform="translate(31.10 264.0) rotate(-90) translate(124.71 0) scale(1 1)" font-size="25.5">N</text>
<text transform="translate(37.30 264.0) rotate(-90) translate(141.68 0) scale(1 1)" font-size="17">ch</text>
<text transform="translate(31.10 264.0) rotate(-90) translate(158.70 0) scale(1 1)" font-size="25.5">/</text>
<text transform="translate(31.10 264.0) rotate(-90) translate(164.63 0) scale(1 1)" font-size="25.5">d</text>
<text transform="translate(31.10 264.0) rotate(-90) translate(175.68 0) scale(1.15 1.0)" font-size="25.5">η</text>
<text transform="translate(31.10 264.0) rotate(-90) translate(198.93 0) scale(1 1)" font-size="25.5">d</text>
<text transform="translate(31.10 264.0) rotate(-90) translate(211.03 0) scale(0.87 0.9)" font-size="25.5">ϕ</text>
<text transform="translate(36.8 855.4) rotate(-90) scale(0.96 1)" font-size="19">Ratio to ATLAS</text>
<text transform="translate(760 254.9) rotate(-90)" font-size="19" fill="#6a6a6a" textLength="217.6" lengthAdjust="spacing">Rivet 4.1.0, ≥ 100k events</text>
<text transform="translate(762.2 629.1) rotate(-90)" font-size="19" fill="#6a6a6a" textLength="287.6" lengthAdjust="spacing">mcplots.cern.ch [arXiv:1306.3436]</text>
<text x="326.10" y="603.70" font-size="15.8" fill="#999">(ATLAS_20</text><path transform="translate(407.78 603.70) scale(0.00771 -0.00771)" d="M570 0H763V1466H640C622 1378 577 1308 500 1266C430 1228 340 1212 223 1208V1072H570Z" fill="#999"/><text x="416.56" y="603.70" font-size="15.8" fill="#999">9_I</text><path transform="translate(438.53 603.70) scale(0.00771 -0.00771)" d="M570 0H763V1466H640C622 1378 577 1308 500 1266C430 1228 340 1212 223 1208V1072H570Z" fill="#999"/><text x="447.32" y="603.70" font-size="15.8" fill="#999">73653</text><path transform="translate(491.25 603.70) scale(0.00771 -0.00771)" d="M570 0H763V1466H640C622 1378 577 1308 500 1266C430 1228 340 1212 223 1208V1072H570Z" fill="#999"/><text x="500.04" y="603.70" font-size="15.8" fill="#999">)</text>
<text x="179.25" y="85" font-size="24.3">Away region, 200 &lt; p</text>
<text x="402.1" y="74.9" font-size="16">Z</text>
<text x="402" y="97.3" font-size="16">T</text>
<text x="419.71" y="85" font-size="24.2">&lt; 500 [GeV], inclusive</text>
</svg></body></html>
